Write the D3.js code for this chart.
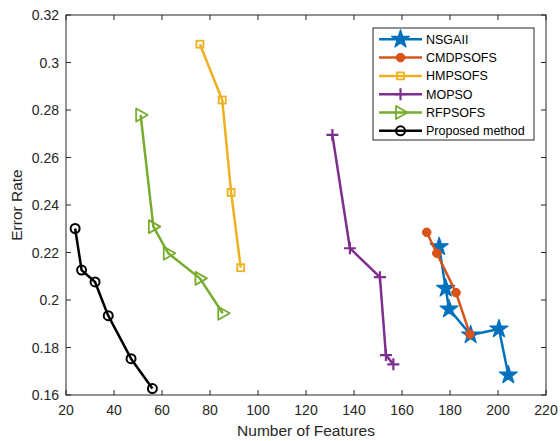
<!DOCTYPE html>
<html>
<head>
<meta charset="utf-8">
<script src="https://cdn.jsdelivr.net/npm/d3@7"></script>
<style>
  body { margin: 0; background: #fff; }
  svg { font-family: Arial, "Liberation Sans", Helvetica, sans-serif; }
</style>
</head>
<body>
<svg class="visual" width="560" height="441"></svg>
<script>
// Series names, drawn in this order (later ones sit on top)
const seriesNames = ["NSGAII", "CMDPSOFS", "HMPSOFS", "MOPSO", "RFPSOFS", "Proposed method"];

// Points: [number of features, error rate]
const nsgaii   = [[175.5, 0.2224], [178.2, 0.2049], [179.6, 0.1962], [188.6, 0.1853], [200.4, 0.1878], [204.3, 0.1684]];
const cmdpsofs = [[170.3, 0.2285], [174.5, 0.2197], [182.5, 0.2031], [188.3, 0.1856]];
const hmpsofs  = [[75.8, 0.3077], [85.1, 0.2842], [88.8, 0.2453], [92.8, 0.2136]];
const mopso    = [[131, 0.2695], [138.3, 0.2218], [150.8, 0.2096], [153.3, 0.1768], [156.4, 0.1729]];
const rfpsofs  = [[51.1, 0.2779], [56.4, 0.2309], [62.6, 0.2197], [75.8, 0.2091], [85.3, 0.1944]];
const proposed = [[23.8, 0.2301], [26.5, 0.2126], [32.1, 0.2076], [37.6, 0.1934], [47.1, 0.1753], [56.0, 0.1627]];

const xTicks = [20, 40, 60, 80, 100, 120, 140, 160, 180, 200, 220];
const yTicks = [0.16, 0.18, 0.2, 0.22, 0.24, 0.26, 0.28, 0.3, 0.32];

const svg = d3.select(".visual");

// Plot box in pixels
const margin = {top: 15, right: 14, bottom: 46, left: 66};
const width = 560 - margin.left - margin.right;
const height = 441 - margin.top - margin.bottom;
const axisColor = "#262626";

const x = d3.scaleLinear().domain([20, 220]).range([0, width]);
const y = d3.scaleLinear().domain([0.16, 0.32]).range([height, 0]);

const g = svg.append("g")
    .attr("transform", `translate(${margin.left},${margin.top})`);

// Marker shapes (MATLAB style)
function pentagram(R) {
    const r = R * 0.382;
    let pts = [];
    for (let i = 0; i < 10; i++) {
        const a = -Math.PI / 2 + i * Math.PI / 5;
        const rr = i % 2 === 0 ? R : r;
        pts.push([rr * Math.cos(a), rr * Math.sin(a)]);
    }
    return "M" + pts.map(p => p.join(",")).join("L") + "Z";
}

const styles = [
    {data: nsgaii,   color: "#0072BD", marker: "star"},
    {data: cmdpsofs, color: "#D95319", marker: "dot"},
    {data: hmpsofs,  color: "#EDB120", marker: "square"},
    {data: mopso,    color: "#7E2F8E", marker: "plus"},
    {data: rfpsofs,  color: "#77AC30", marker: "tri"},
    {data: proposed, color: "#000000", marker: "circle"}
];

function drawMarker(sel, kind, color) {
    if (kind === "star") {
        sel.append("path").attr("d", pentagram(9.5))
            .attr("fill", color).attr("stroke", color).attr("stroke-width", 1.2)
            .attr("stroke-linejoin", "round");
    } else if (kind === "dot") {
        sel.append("circle").attr("r", 4.3)
            .attr("fill", color).attr("stroke", color).attr("stroke-width", 1);
    } else if (kind === "square") {
        sel.append("rect").attr("x", -3.5).attr("y", -3.5).attr("width", 7).attr("height", 7)
            .attr("fill", "none").attr("stroke", color).attr("stroke-width", 1.8);
    } else if (kind === "plus") {
        sel.append("path").attr("d", "M-6,0H6M0,-6V6")
            .attr("fill", "none").attr("stroke", color).attr("stroke-width", 2.2);
    } else if (kind === "tri") {
        sel.append("path").attr("d", "M-4.5,-6.5L7,0L-4.5,6.5Z")
            .attr("fill", "none").attr("stroke", color).attr("stroke-width", 1.8)
            .attr("stroke-linejoin", "round");
    } else if (kind === "circle") {
        sel.append("circle").attr("r", 4.5)
            .attr("fill", "none").attr("stroke", color).attr("stroke-width", 2);
    }
}

// Axes box with inward ticks on all four sides
g.append("rect")
    .attr("width", width).attr("height", height)
    .attr("fill", "#fff").attr("stroke", axisColor).attr("stroke-width", 1);

const tickLen = 5;
xTicks.forEach(t => {
    g.append("line").attr("x1", x(t)).attr("x2", x(t)).attr("y1", height).attr("y2", height - tickLen)
        .attr("stroke", axisColor);
    g.append("line").attr("x1", x(t)).attr("x2", x(t)).attr("y1", 0).attr("y2", tickLen)
        .attr("stroke", axisColor);
    g.append("text").attr("x", x(t)).attr("y", height + 20)
        .attr("text-anchor", "middle").attr("font-size", 14).attr("fill", axisColor)
        .text(t);
});
yTicks.forEach(t => {
    g.append("line").attr("x1", 0).attr("x2", tickLen).attr("y1", y(t)).attr("y2", y(t))
        .attr("stroke", axisColor);
    g.append("line").attr("x1", width).attr("x2", width - tickLen).attr("y1", y(t)).attr("y2", y(t))
        .attr("stroke", axisColor);
    g.append("text").attr("x", -7).attr("y", y(t)).attr("dy", "0.36em")
        .attr("text-anchor", "end").attr("font-size", 14).attr("fill", axisColor)
        .text(d3.format("")(+t.toFixed(2)));
});

// Axis titles
svg.append("text")
    .attr("x", margin.left + width / 2).attr("y", 436)
    .attr("text-anchor", "middle").attr("font-size", 15.5).attr("fill", axisColor)
    .text("Number of Features");
svg.append("text")
    .attr("transform", `translate(22,${margin.top + height / 2}) rotate(-90)`)
    .attr("text-anchor", "middle").attr("font-size", 15.5).attr("fill", axisColor)
    .text("Error Rate");

// Lines and markers
const line = d3.line().x(d => x(d[0])).y(d => y(d[1]));

styles.forEach(s => {
    const sg = g.append("g");
    sg.append("path").datum(s.data)
        .attr("d", line)
        .attr("fill", "none").attr("stroke", s.color).attr("stroke-width", 2.5)
        .attr("stroke-linejoin", "round");
    sg.selectAll("g.m").data(s.data).join("g")
        .attr("class", "m")
        .attr("transform", d => `translate(${x(d[0])},${y(d[1])})`)
        .each(function () { drawMarker(d3.select(this), s.marker, s.color); });
});

// Legend
const legend = svg.append("g").attr("transform", "translate(373,28)");
legend.append("rect").attr("width", 161).attr("height", 112)
    .attr("fill", "#fff").attr("stroke", axisColor).attr("stroke-width", 1);
seriesNames.forEach((name, i) => {
    const ly = 11.3 + i * 18.3;
    const row = legend.append("g").attr("transform", `translate(0,${ly})`);
    row.append("line").attr("x1", 6).attr("x2", 49).attr("y1", 0).attr("y2", 0)
        .attr("stroke", styles[i].color).attr("stroke-width", 2.5);
    const mg = row.append("g").attr("transform", "translate(27.5,0)");
    drawMarker(mg, styles[i].marker, styles[i].color);
    row.append("text").attr("x", 53).attr("y", 0).attr("dy", "0.36em")
        .attr("font-size", 12.5).attr("fill", "#000")
        .text(name);
});
</script>
</body>
</html>
